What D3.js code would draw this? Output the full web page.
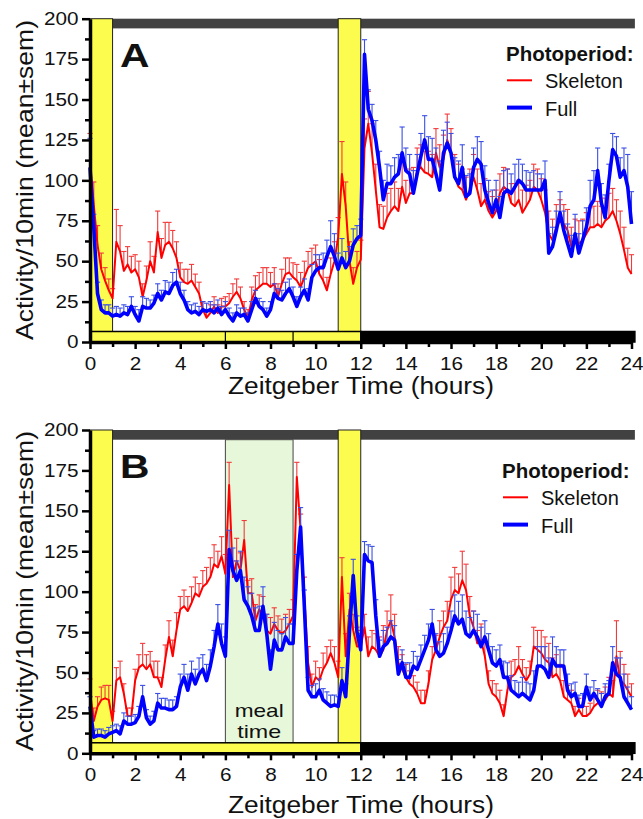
<!DOCTYPE html>
<html>
<head>
<meta charset="utf-8">
<script src="https://cdn.jsdelivr.net/npm/d3@7/dist/d3.min.js"></script>
<style>
body { margin: 0; background: #fff; }
text { font-family: "Liberation Sans", Arial, sans-serif; fill: #111; }
</style>
</head>
<body>
<script>
// 10 min bins, ZT 0 -> 24
let hours = d3.range(145).map(i => i / 6)
let xTicks = d3.range(0, 25, 2)
let xMinor = d3.range(1, 24, 2)
let yTicks = [0, 25, 50, 75, 100, 125, 150, 175, 200]
let yMinor = [12.5, 37.5, 62.5, 87.5, 112.5, 137.5, 162.5, 187.5]
let seriesNames = ['Skeleton', 'Full']

// panel A
let skeletonA = [111,85,60,45,38,32,27,62,56,44,48,43,
  45,40,28,38,50,43,68,52,60,62,58,52,
  40,37,36,38,34,30,20,15,18,22,18,22,
  22,24,28,31,27,20,15,26,32,34,36,36,
  34,36,28,36,42,43,40,38,34,40,46,48,
  50,42,38,32,42,50,65,104,84,50,36,46,
  51,120,135,117,94,71,70,77,81,84,81,96,
  86,92,92,106,108,105,104,102,117,108,113,125,
  117,102,96,94,88,94,102,94,84,88,81,77,
  81,92,96,94,86,84,88,80,84,88,96,94,
  88,80,67,63,71,75,73,69,59,63,61,63,
  67,71,71,73,71,75,77,81,75,67,57,46,
  42]
let skeletonA_sem = [18,14,12,10,8,7,6,20,16,12,11,10,
  9,10,8,9,12,10,13,12,14,12,11,10,
  9,8,9,10,8,7,5,5,5,6,5,5,
  6,6,8,8,7,5,5,8,9,9,10,10,
  9,10,8,9,10,9,9,10,9,10,10,10,
  10,9,9,8,10,12,12,20,15,12,10,10,
  12,18,20,18,16,14,14,15,14,15,14,15,
  14,15,16,14,14,13,14,14,15,14,15,16,
  15,14,14,13,14,13,14,13,14,13,12,13,
  13,12,12,13,12,14,12,14,13,12,14,13,
  13,14,14,13,14,13,12,13,12,13,14,13,
  13,12,13,14,13,14,15,14,13,14,14,12,
  12]
let fullA = [108,71,30,20,18,18,16,17,16,18,17,22,
  17,13,22,21,21,24,30,26,31,30,35,37,
  30,26,20,18,19,17,20,19,20,18,21,17,
  20,16,13,18,16,17,13,20,27,22,20,16,
  20,30,27,26,30,33,28,22,28,32,26,40,
  44,46,46,53,59,53,45,52,46,50,60,64,
  66,178,144,137,125,108,88,98,98,102,104,117,
  106,104,92,104,115,125,113,113,104,94,117,123,
  117,102,98,108,90,92,108,113,110,94,86,80,
  88,77,92,94,92,96,100,98,94,94,94,94,
  94,100,55,59,69,80,69,61,53,67,55,63,
  71,84,88,106,86,77,100,119,115,102,106,96,
  73]
let fullA_sem = [18,8,7,6,5,5,5,5,5,5,5,6,
  5,7,6,6,5,5,6,6,7,7,8,8,
  7,6,5,5,5,5,5,5,5,5,5,5,
  5,5,5,5,5,4,5,5,5,5,5,5,
  5,6,6,6,7,6,6,6,6,7,7,8,
  10,8,9,10,16,14,10,12,10,9,10,8,
  10,9,12,10,12,10,12,12,11,12,12,16,
  14,12,14,12,14,15,14,13,16,18,14,13,
  12,12,14,14,13,12,12,14,14,15,14,14,
  12,13,14,13,12,14,13,12,12,11,12,10,
  10,12,12,12,12,13,12,12,13,12,12,12,
  12,16,18,14,12,14,10,10,12,12,14,20,
  20]

// panel B
let skeletonB = [38,20,29,33,34,33,20,45,47,37,23,23,
  45,53,55,52,55,47,47,41,58,72,60,76,
  89,91,88,93,99,97,103,105,109,117,115,122,
  111,166,109,119,113,132,99,99,82,89,85,76,
  74,80,76,74,76,80,85,171,138,97,56,41,
  47,45,52,56,62,56,47,109,60,89,76,66,
  66,78,60,66,64,60,64,76,82,72,56,52,
  47,43,41,37,31,31,43,58,64,72,78,82,
  95,101,99,107,101,85,78,68,70,60,43,37,
  35,31,23,39,47,49,54,49,45,49,66,64,
  62,58,56,47,49,45,35,33,31,23,27,23,
  23,25,29,31,31,33,37,35,60,45,43,39,
  35]
let skeletonB_sem = [8,8,6,8,8,9,6,8,10,6,5,5,
  7,8,13,9,8,10,10,6,9,10,10,11,
  8,10,9,10,10,8,10,10,12,12,10,12,
  12,14,10,14,11,12,8,9,10,9,12,10,
  10,10,9,9,10,9,10,9,10,12,10,8,
  10,8,10,10,8,10,10,12,14,10,10,12,
  10,8,12,10,10,12,15,12,16,14,10,9,
  8,8,7,7,8,8,8,8,9,10,10,12,
  14,14,12,18,16,12,10,8,10,10,8,8,
  8,8,7,8,10,9,12,9,8,8,12,12,
  14,14,12,12,12,10,10,9,8,6,7,6,
  6,6,7,8,7,8,10,10,22,18,12,10,
  8]
let fullB = [29,10,11,11,10,12,13,14,12,20,18,18,
  19,23,35,22,18,20,31,28,28,27,27,29,
  41,47,39,49,43,49,52,45,54,66,80,68,
  60,126,113,107,113,95,91,85,76,76,91,74,
  52,70,64,64,72,68,68,113,140,91,39,35,
  35,39,33,31,29,30,29,45,35,75,110,75,
  64,123,119,118,85,60,66,68,72,70,49,56,
  47,47,54,52,58,64,70,80,64,60,62,68,
  76,85,80,83,74,72,76,72,66,72,64,56,
  54,58,47,47,39,37,35,37,35,33,39,54,
  54,52,47,58,54,54,54,39,35,37,29,29,
  41,33,37,33,29,35,37,56,49,47,35,31,
  27]
let fullB_sem = [6,4,4,4,4,4,4,4,5,5,5,5,
  5,6,7,5,5,6,6,6,6,6,6,6,
  8,8,10,8,9,10,9,10,10,10,12,12,
  12,12,14,12,12,14,12,14,14,15,12,12,
  12,11,12,10,12,12,12,10,12,10,8,7,
  8,7,7,7,7,6,6,8,8,10,10,10,
  10,8,10,10,10,10,10,10,10,9,9,8,
  9,9,9,8,9,9,10,9,10,9,12,10,
  12,13,14,15,14,12,12,14,12,10,10,10,
  10,9,10,9,9,8,9,10,9,10,12,12,
  12,14,12,14,12,10,10,10,8,7,7,8,
  8,8,8,7,8,8,8,10,10,12,14,10,
  8]

let panels = [
  {name: 'A', skeleton: skeletonA, skeletonSem: skeletonA_sem, full: fullA, fullSem: fullA_sem,
   y0: 342, y200: 18.7, meal: false, legendX: 506, legendY: 61, titleY: 394, ytitleY: 180},
  {name: 'B', skeleton: skeletonB, skeletonSem: skeletonB_sem, full: fullB, fullSem: fullB_sem,
   y0: 753.3, y200: 430, meal: true, legendX: 502, legendY: 478, titleY: 813, ytitleY: 591}
]

let yellow = '#fcfc4e'
let colors = {Skeleton: '#ff0000', Full: '#0000ff'}
let errColors = {Skeleton: '#f23a3a', Full: '#3b4fe6'}

let svg = d3.select('body').append('svg')
  .attr('width', 643)
  .attr('height', 819)

let x = d3.scaleLinear().domain([0, 24]).range([90, 631.5])

function drawPanel(p) {
  let y = d3.scaleLinear().domain([0, 200]).range([p.y0, p.y200])
  let g = svg.append('g').attr('class', 'panel-' + p.name)

  // dark phase bar on top
  g.append('rect')
    .attr('x', x(1)).attr('y', y(200))
    .attr('width', x(24.15) - x(1)).attr('height', y(194) - y(200))
    .attr('fill', '#414141')

  if (p.meal) {
    g.append('rect')
      .attr('x', x(6)).attr('y', y(194))
      .attr('width', x(9) - x(6)).attr('height', y(6.5) - y(194))
      .attr('fill', '#e7f8da')
      .attr('stroke', '#444').attr('stroke-width', 1)
    g.append('text')
      .attr('x', x(7.5)).attr('y', p.y0 - 36)
      .attr('text-anchor', 'middle').attr('font-size', 19)
      .attr('textLength', 49).attr('lengthAdjust', 'spacingAndGlyphs')
      .text('meal')
    g.append('text')
      .attr('x', x(7.5)).attr('y', p.y0 - 15.5)
      .attr('text-anchor', 'middle').attr('font-size', 19)
      .attr('textLength', 44).attr('lengthAdjust', 'spacingAndGlyphs')
      .text('time')
  }

  // light pulses
  for (let [a, b] of [[0, 1], [11, 12]]) {
    g.append('rect')
      .attr('x', x(a)).attr('y', y(200))
      .attr('width', x(b) - x(a)).attr('height', y(6.5) - y(200))
      .attr('fill', yellow)
      .attr('stroke', '#222').attr('stroke-width', 1)
  }

  // light / dark bar at the bottom
  g.append('rect')
    .attr('x', x(0)).attr('y', y(6.5))
    .attr('width', x(12) - x(0)).attr('height', y(0) - y(6.5))
    .attr('fill', yellow).attr('stroke', '#000').attr('stroke-width', 1.5)
  g.append('rect')
    .attr('x', x(12)).attr('y', y(6.5))
    .attr('width', x(24.15) - x(12)).attr('height', y(0) - y(6.5))
    .attr('fill', '#000').attr('stroke', '#000').attr('stroke-width', 1.5)
  if (!p.meal) {
    for (let h of [6, 9]) {
      g.append('line')
        .attr('x1', x(h)).attr('x2', x(h))
        .attr('y1', y(6.5)).attr('y2', y(0))
        .attr('stroke', '#000').attr('stroke-width', 1.2)
    }
  }

  // series
  for (let name of seriesNames) {
    let vals = name == 'Skeleton' ? p.skeleton : p.full
    let sem = name == 'Skeleton' ? p.skeletonSem : p.fullSem
    let err = g.append('g')
      .attr('stroke', errColors[name])
      .attr('stroke-width', 1.1)
    err.selectAll('line.bar')
      .data(vals)
      .enter()
      .append('line')
      .attr('class', 'bar')
      .attr('x1', (d, i) => x(hours[i])).attr('x2', (d, i) => x(hours[i]))
      .attr('y1', d => y(d)).attr('y2', (d, i) => y(d + sem[i]))
    err.selectAll('line.cap')
      .data(vals)
      .enter()
      .append('line')
      .attr('class', 'cap')
      .attr('x1', (d, i) => x(hours[i]) - 2.6).attr('x2', (d, i) => x(hours[i]) + 2.6)
      .attr('y1', (d, i) => y(d + sem[i])).attr('y2', (d, i) => y(d + sem[i]))

    let line = d3.line()
      .x((d, i) => x(hours[i]))
      .y(d => y(d))
    g.append('path')
      .datum(vals)
      .attr('d', line)
      .attr('fill', 'none')
      .attr('stroke', colors[name])
      .attr('stroke-width', name == 'Skeleton' ? 2 : 3.6)
      .attr('stroke-linejoin', 'round')
  }

  // axes
  g.append('g')
    .attr('transform', `translate(${x(0)},0)`)
    .call(d3.axisLeft(y).tickValues(yTicks).tickSize(8).tickSizeOuter(0).tickPadding(2))
  g.append('g')
    .attr('transform', `translate(${x(0)},0)`)
    .call(d3.axisLeft(y).tickValues(yMinor).tickSize(5).tickSizeOuter(0).tickFormat(''))
    .select('.domain').remove()
  g.append('g')
    .attr('transform', `translate(0,${y(0)})`)
    .call(d3.axisBottom(x).tickValues(xTicks).tickSize(7).tickSizeOuter(0).tickPadding(8))
  g.append('g')
    .attr('transform', `translate(0,${y(0)})`)
    .call(d3.axisBottom(x).tickValues(xMinor).tickSize(5).tickSizeOuter(0).tickFormat(''))
    .select('.domain').remove()

  g.selectAll('.domain').attr('stroke', '#000').attr('stroke-width', 3.5)
  g.selectAll('.tick line').attr('stroke', '#000').attr('stroke-width', 2.5)
  g.selectAll('.tick text')
    .attr('font-size', 18)
    .attr('font-family', '"Liberation Sans", Arial, sans-serif')
    .attr('fill', '#111')
    .attr('transform', 'scale(1.15,1)')

  // panel letter
  g.append('text')
    .attr('transform', `translate(120,${p.y200 + 48}) scale(1.2,1)`)
    .attr('font-size', 34).attr('font-weight', 'bold')
    .text(p.name)

  // legend
  let leg = g.append('g')
  leg.append('text')
    .attr('x', p.legendX).attr('y', p.legendY)
    .attr('font-size', 20.5).attr('font-weight', 'bold')
    .text('Photoperiod:')
  seriesNames.forEach((name, k) => {
    let ly = p.legendY + 27.3 * (k + 1)
    leg.append('line')
      .attr('x1', p.legendX + 1).attr('x2', p.legendX + 26)
      .attr('y1', ly - 8).attr('y2', ly - 8)
      .attr('stroke', colors[name])
      .attr('stroke-width', name == 'Skeleton' ? 2 : 4)
    leg.append('text')
      .attr('x', p.legendX + 39).attr('y', ly)
      .attr('font-size', 20)
      .text(name)
  })

  // axis titles
  g.append('text')
    .attr('x', 361).attr('y', p.titleY)
    .attr('text-anchor', 'middle')
    .attr('font-size', 23)
    .attr('textLength', 266).attr('lengthAdjust', 'spacingAndGlyphs')
    .text('Zeitgeber Time (hours)')
  g.append('text')
    .attr('transform', `translate(33,${p.ytitleY}) rotate(-90)`)
    .attr('text-anchor', 'middle')
    .attr('font-size', 24)
    .attr('textLength', 320).attr('lengthAdjust', 'spacingAndGlyphs')
    .text('Activity/10min (mean±sem)')
}

panels.forEach(drawPanel)
</script>
</body>
</html>
